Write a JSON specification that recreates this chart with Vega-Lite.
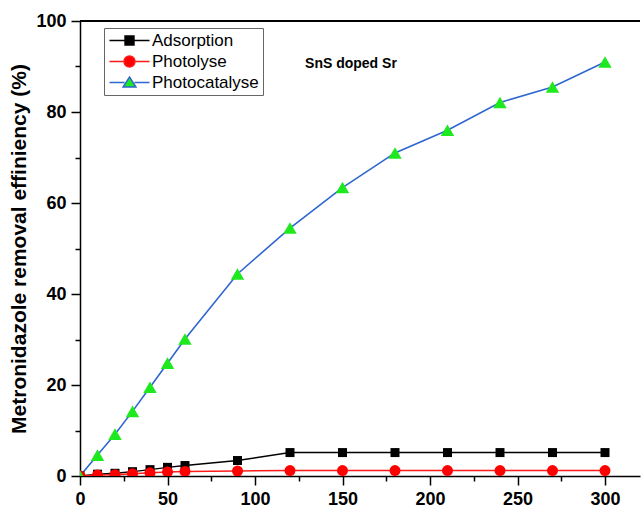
{
  "$schema": "https://vega.github.io/schema/vega-lite/v6.json",
  "width": 560,
  "height": 455,
  "autosize": {"type": "none"},
  "padding": {"left": 80, "top": 21, "right": 1, "bottom": 32},
  "background": "white",
  "config": {"view": {"stroke": null}, "font": "Liberation Sans"},
  "datasets": {
    "pts": [
      {"series": "Adsorption", "time": 0, "value": 0},
      {"series": "Adsorption", "time": 10, "value": 0.4},
      {"series": "Adsorption", "time": 20, "value": 0.6},
      {"series": "Adsorption", "time": 30, "value": 0.95},
      {"series": "Adsorption", "time": 40, "value": 1.4},
      {"series": "Adsorption", "time": 50, "value": 1.9},
      {"series": "Adsorption", "time": 60, "value": 2.3},
      {"series": "Adsorption", "time": 90, "value": 3.4},
      {"series": "Adsorption", "time": 120, "value": 5.15},
      {"series": "Adsorption", "time": 150, "value": 5.15},
      {"series": "Adsorption", "time": 180, "value": 5.15},
      {"series": "Adsorption", "time": 210, "value": 5.15},
      {"series": "Adsorption", "time": 240, "value": 5.15},
      {"series": "Adsorption", "time": 270, "value": 5.15},
      {"series": "Adsorption", "time": 300, "value": 5.15},
      {"series": "Photolyse", "time": 0, "value": 0},
      {"series": "Photolyse", "time": 10, "value": 0.2},
      {"series": "Photolyse", "time": 20, "value": 0.3},
      {"series": "Photolyse", "time": 30, "value": 0.5},
      {"series": "Photolyse", "time": 40, "value": 0.7},
      {"series": "Photolyse", "time": 50, "value": 0.9},
      {"series": "Photolyse", "time": 60, "value": 1.0},
      {"series": "Photolyse", "time": 90, "value": 1.1},
      {"series": "Photolyse", "time": 120, "value": 1.2},
      {"series": "Photolyse", "time": 150, "value": 1.2},
      {"series": "Photolyse", "time": 180, "value": 1.2},
      {"series": "Photolyse", "time": 210, "value": 1.2},
      {"series": "Photolyse", "time": 240, "value": 1.2},
      {"series": "Photolyse", "time": 270, "value": 1.2},
      {"series": "Photolyse", "time": 300, "value": 1.2},
      {"series": "Photocatalyse", "time": 0, "value": 0},
      {"series": "Photocatalyse", "time": 10, "value": 4.6},
      {"series": "Photocatalyse", "time": 20, "value": 9.2},
      {"series": "Photocatalyse", "time": 30, "value": 14.2},
      {"series": "Photocatalyse", "time": 40, "value": 19.5},
      {"series": "Photocatalyse", "time": 50, "value": 24.8},
      {"series": "Photocatalyse", "time": 60, "value": 30.1},
      {"series": "Photocatalyse", "time": 90, "value": 44.4},
      {"series": "Photocatalyse", "time": 120, "value": 54.5},
      {"series": "Photocatalyse", "time": 150, "value": 63.4},
      {"series": "Photocatalyse", "time": 180, "value": 71.0},
      {"series": "Photocatalyse", "time": 210, "value": 76.0},
      {"series": "Photocatalyse", "time": 240, "value": 82.1},
      {"series": "Photocatalyse", "time": 270, "value": 85.5},
      {"series": "Photocatalyse", "time": 300, "value": 91.0}
    ],
    "ann": [{"time": 128.6, "value": 89.7, "label": "SnS doped Sr"}]
  },
  "data": {"name": "pts"},
  "encoding": {
    "x": {
      "field": "time", "type": "quantitative",
      "scale": {"domain": [0, 320], "nice": false, "zero": false},
      "axis": {
        "title": null,
        "values": [0, 25, 50, 75, 100, 125, 150, 175, 200, 225, 250, 275, 300],
        "labelExpr": "datum.value % 50 === 0 ? datum.label : ''",
        "tickSize": {"condition": {"test": "datum.value % 50 === 0", "value": 9}, "value": 5},
        "labelFontSize": 18, "labelFontWeight": "bold", "labelColor": "black",
        "labelFont": "Liberation Sans",
        "labelFlush": false, "labelOverlap": false, "labelBound": false,
        "labelPadding": 5,
        "domainColor": "black", "domainWidth": 1.5,
        "tickColor": "black", "tickWidth": 1.5,
        "grid": false
      }
    },
    "y": {
      "field": "value", "type": "quantitative",
      "scale": {"domain": [0, 100], "nice": false},
      "axis": {
        "title": "Metronidazole removal effiniency (%)",
        "titleFontSize": 21, "titleFontWeight": "bold", "titleColor": "black",
        "titleFont": "Liberation Sans", "titlePadding": 6,
        "values": [0, 10, 20, 30, 40, 50, 60, 70, 80, 90, 100],
        "labelExpr": "datum.value % 20 === 0 ? datum.label : ''",
        "tickSize": {"condition": {"test": "datum.value % 20 === 0", "value": 9}, "value": 5},
        "labelFontSize": 18, "labelFontWeight": "bold", "labelColor": "black",
        "labelFont": "Liberation Sans",
        "labelFlush": false, "labelOverlap": false, "labelBound": false,
        "labelPadding": 5,
        "domainColor": "black", "domainWidth": 1.5,
        "tickColor": "black", "tickWidth": 1.5,
        "grid": false
      }
    }
  },
  "layer": [
    {
      "mark": {"type": "rule", "color": "black", "strokeWidth": 1.5},
      "encoding": {"x": null, "y": {"datum": 100, "type": "quantitative"}}
    },
    {
      "transform": [{"filter": "datum.series === 'Adsorption'"}],
      "mark": {"type": "line", "strokeWidth": 1.4, "color": "black", "clip": true}
    },
    {
      "transform": [{"filter": "datum.series === 'Photolyse'"}],
      "mark": {"type": "line", "strokeWidth": 1.5, "color": "#ff1a1a", "clip": true}
    },
    {
      "transform": [{"filter": "datum.series === 'Photocatalyse'"}],
      "mark": {"type": "line", "strokeWidth": 1.6, "color": "#2f66d0", "clip": true}
    },
    {
      "transform": [{"filter": "datum.series === 'Adsorption'"}],
      "mark": {"type": "point", "shape": "square", "filled": true, "size": 81, "color": "black", "opacity": 1, "clip": true}
    },
    {
      "transform": [{"filter": "datum.series === 'Photolyse'"}],
      "mark": {"type": "point", "shape": "circle", "filled": true, "size": 121, "color": "#ff0000", "opacity": 1, "clip": true}
    },
    {
      "transform": [{"filter": "datum.series === 'Photocatalyse'"}],
      "mark": {"type": "point", "shape": "triangle-up", "filled": true, "size": 180, "color": "#1ee81e", "opacity": 1, "clip": true}
    },
    {
      "mark": {"type": "point", "filled": true, "opacity": 0},
      "encoding": {
        "shape": {
          "field": "series", "type": "nominal",
          "scale": {
            "domain": ["Adsorption", "Photolyse", "Photocatalyse"],
            "range": [
              "M-4,0H-0.9M0.9,0H4M-0.9,-0.9H0.9V0.9H-0.9Z",
              "M-4,0H-1.1M1.1,0H4M-1.1,0A1.1,1.1 0 1,0 1.1,0A1.1,1.1 0 1,0 -1.1,0Z",
              "M-4,0H-1M1,0H4M0,-1.1L1.3,0.9H-1.3Z"
            ]
          },
          "legend": {
            "orient": "none", "legendX": 24, "legendY": 7, "title": null,
            "padding": 4, "strokeColor": "#666666", "fillColor": "white",
            "symbolSize": 100, "symbolOffset": 13, "labelOffset": 14,
            "labelFontSize": 17, "labelFont": "Liberation Sans", "labelColor": "black",
            "rowPadding": 3, "symbolStrokeWidth": 1.4, "symbolOpacity": 1
          }
        },
        "fill": {
          "field": "series", "type": "nominal",
          "scale": {"domain": ["Adsorption", "Photolyse", "Photocatalyse"], "range": ["black", "#ff0000", "#1ee81e"]}
        },
        "stroke": {
          "field": "series", "type": "nominal",
          "scale": {"domain": ["Adsorption", "Photolyse", "Photocatalyse"], "range": ["black", "#ff1a1a", "#2f66d0"]}
        }
      }
    },
    {
      "data": {"name": "ann"},
      "mark": {"type": "text", "align": "left", "baseline": "alphabetic", "fontSize": 14, "fontWeight": "bold", "font": "Liberation Sans", "color": "black"},
      "encoding": {"text": {"field": "label"}}
    }
  ]
}
